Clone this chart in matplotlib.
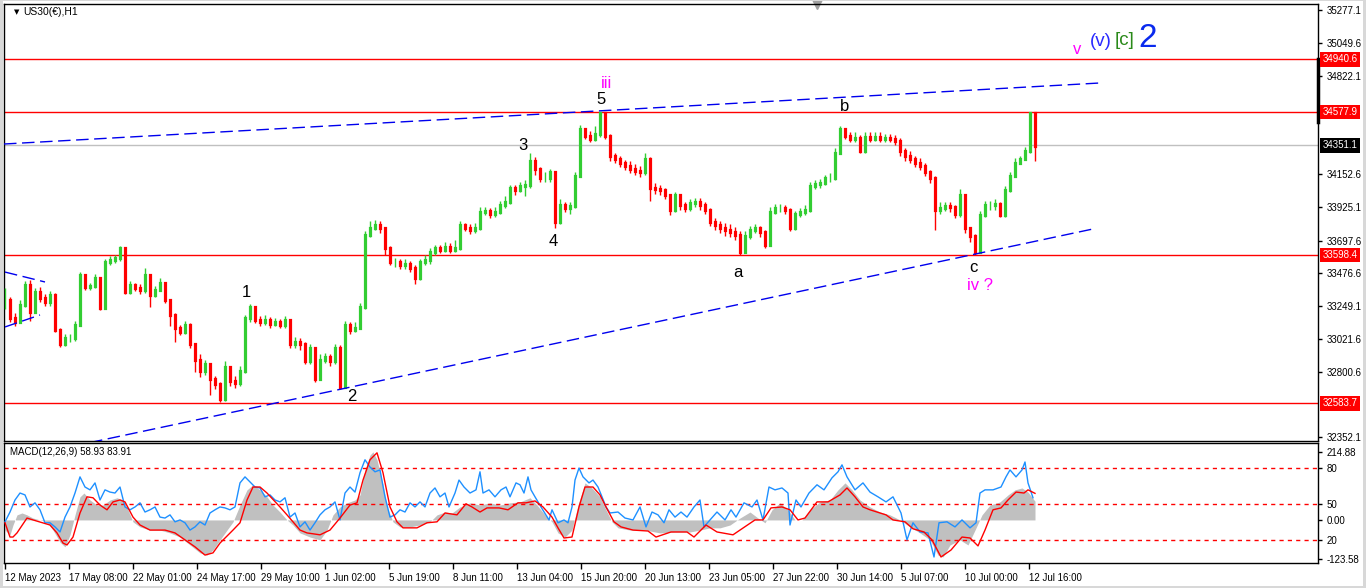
import numpy as np
import matplotlib.pyplot as plt
from matplotlib.patches import Rectangle
from matplotlib.transforms import blended_transform_factory

plt.rcParams['font.family'] = ['Liberation Sans', 'DejaVu Sans']

W, H = 1366, 588

# US30 H1, one candle read every 5 hourly bars (12 May .. 12 Jul 2023)
bar_step = 5
closes = [33292, 33169, 33142, 33258, 33394, 33210, 33346, 33306, 33278, 33326,
          33088, 32986, 33033, 33033, 33122, 33462, 33381, 33387, 33442, 33237,
          33551, 33564, 33578, 33646, 33346, 33394, 33374, 33360, 33462, 33326,
          33360, 33408, 33292, 33190, 33101, 33074, 33122, 32986, 32883, 32802,
          32849, 32747, 32713, 32611, 32829, 32734, 32720, 32802, 33169, 33244,
          33156, 33142, 33156, 33129, 33142, 33122, 33156, 32986, 33006, 32986,
          32870, 32965, 32747, 32883, 32897, 32870, 32965, 32693, 33122, 33088,
          33101, 33244, 33735, 33782, 33803, 33782, 33646, 33551, 33551, 33530,
          33537, 33510, 33442, 33551, 33564, 33619, 33646, 33633, 33653, 33633,
          33646, 33803, 33782, 33769, 33782, 33891, 33898, 33878, 33891, 33939,
          33959, 34055, 34041, 34068, 34075, 34245, 34191, 34123, 34123, 34164,
          33823, 33939, 33919, 33932, 34143, 34463, 34416, 34395, 34429, 34572,
          34416, 34279, 34259, 34232, 34211, 34191, 34177, 34164, 34259, 34055,
          34048, 34041, 34007, 33905, 34007, 33939, 33919, 33953, 33959, 33939,
          33905, 33823, 33803, 33782, 33769, 33755, 33735, 33619, 33728, 33769,
          33782, 33755, 33667, 33891, 33919, 33919, 33905, 33782, 33878, 33891,
          33905, 34068, 34082, 34089, 34123, 34123, 34300, 34463, 34416, 34395,
          34402, 34314, 34409, 34395, 34409, 34395, 34402, 34395, 34382, 34314,
          34279, 34259, 34232, 34211, 34164, 34123, 33905, 33919, 33932, 33925,
          33878, 34007, 33782, 33728, 33619, 33871, 33939, 33939, 33946, 33871,
          34041, 34143, 34232, 34259, 34314, 34572, 34348]
highs = [33370, 33310, 33200, 33290, 33420, 33430, 33370, 33380, 33330, 33350,
         33340, 33100, 33060, 33060, 33150, 33480, 33470, 33410, 33470, 33450,
         33570, 33590, 33600, 33660, 33650, 33420, 33410, 33400, 33510, 33470,
         33385, 33440, 33415, 33300, 33200, 33120, 33150, 33130, 32990, 32920,
         32880, 32860, 32770, 32730, 32870, 32840, 32770, 32840, 33190, 33260,
         33250, 33180, 33185, 33175, 33170, 33160, 33180, 33160, 33040, 33030,
         33000, 32990, 32970, 32920, 32930, 32920, 32990, 32980, 33150, 33140,
         33140, 33270, 33760, 33830, 33840, 33830, 33790, 33660, 33580, 33570,
         33570, 33560, 33530, 33570, 33600, 33650, 33670, 33670, 33690, 33680,
         33700, 33830, 33820, 33810, 33820, 33930, 33930, 33920, 33930, 33970,
         34000, 34080, 34080, 34100, 34110, 34300, 34270, 34200, 34170, 34190,
         34170, 33980, 33960, 33960, 34170, 34490, 34470, 34450, 34480, 34580,
         34575, 34430, 34300, 34280, 34250, 34240, 34220, 34210, 34300, 34270,
         34090, 34080, 34060, 34020, 34030, 34010, 33960, 33980, 33990, 33990,
         33960, 33920, 33850, 33830, 33820, 33810, 33790, 33760, 33760, 33800,
         33810, 33800, 33770, 33930, 33950, 33950, 33940, 33920, 33900, 33920,
         33940, 34100, 34110, 34120, 34150, 34160, 34330, 34480, 34470, 34440,
         34440, 34420, 34440, 34440, 34440, 34440, 34430, 34430, 34420, 34400,
         34330, 34310, 34280, 34260, 34230, 34180, 34140, 33960, 33960, 33960,
         33940, 34050, 34020, 33790, 33740, 33900, 33970, 33970, 33980, 33960,
         34070, 34170, 34260, 34280, 34340, 34580, 34560]
lows = [33230, 33140, 33110, 33130, 33240, 33150, 33200, 33280, 33250, 33250,
        33070, 32970, 32975, 33000, 33010, 33110, 33360, 33360, 33370, 33220,
        33230, 33530, 33545, 33560, 33330, 33330, 33350, 33335, 33340, 33240,
        33310, 33350, 33270, 33110, 33006, 33050, 33060, 32960, 32795, 32760,
        32780, 32640, 32680, 32590, 32600, 32700, 32690, 32700, 32790, 33140,
        33130, 33110, 33120, 33100, 33110, 33100, 33100, 32960, 32960, 32950,
        32850, 32850, 32730, 32740, 32860, 32840, 32850, 32680, 32690, 33060,
        33070, 33090, 33230, 33720, 33770, 33750, 33600, 33530, 33520, 33500,
        33500, 33480, 33400, 33430, 33530, 33540, 33600, 33610, 33620, 33610,
        33620, 33630, 33760, 33740, 33750, 33770, 33870, 33850, 33860, 33880,
        33920, 33950, 34010, 34030, 34000, 34060, 34150, 34100, 34100, 34100,
        33782, 33810, 33890, 33880, 33920, 34130, 34390, 34370, 34380, 34410,
        34390, 34240, 34230, 34200, 34180, 34160, 34150, 34130, 34150, 33970,
        34020, 34010, 33980, 33870, 33890, 33910, 33890, 33900, 33930, 33910,
        33880, 33800, 33770, 33750, 33730, 33720, 33700, 33598, 33610, 33710,
        33750, 33720, 33650, 33660, 33880, 33890, 33880, 33760, 33770, 33860,
        33870, 33890, 34050, 34060, 34080, 34100, 34110, 34290, 34390, 34370,
        34370, 34300, 34300, 34370, 34380, 34370, 34370, 34370, 34350, 34280,
        34240, 34230, 34200, 34180, 34140, 34090, 33769, 33880, 33900, 33890,
        33850, 33860, 33750, 33690, 33598, 33610, 33860, 33910, 33910, 33860,
        33860, 34030, 34130, 34220, 34250, 34300, 34240]

# MACD(12,26,9) pane readings: (bar number, value)
hist_bars = [0, 5, 8, 12, 17, 22, 28, 35, 42, 48, 55, 60, 65, 70, 75, 79, 85, 92, 98, 105,
             112, 118, 123, 128, 135, 145, 155, 165, 175, 185, 195, 202, 208, 215, 222, 228,
             235, 242, 248, 255, 262, 268, 275, 282, 288, 295, 305, 315, 322, 328, 335, 342,
             350, 355, 360, 365, 368, 372, 378, 382, 388, 395, 405, 415, 425, 432, 440, 447,
             455, 465, 475, 485, 495, 505, 515, 525, 532, 540, 547, 553, 560, 567, 573, 580,
             587, 595, 601, 607, 613, 625, 640, 655, 670, 685, 695, 705, 715, 725, 735, 745,
             753, 760, 767, 775, 783, 790, 797, 805, 815, 825, 833, 840, 847, 855, 865, 875,
             885, 895, 905, 915, 925, 933, 938, 945, 955, 963, 970, 977, 985, 995, 1003, 1010,
             1017, 1023, 1030]
hist_vals = [-32, -47, -16, 16, 22, 16, 6, 0, -6, -32, -70, -85, -47, 16, 73, 85, 63, 47, 47, 63,
             70, 63, 32, -6, -22, -32, -32, -41, -54, -79, -104, -111, -95, -63, -32, -6,
             47, 95, 111, 95, 73, 47, 25, 0, -16, -41, -54, -63, -32, 16, 41, 54,
             63, 79, 158, 205, 215, 190, 111, 41, -6, -22, -22, -16, -6, 16, 25, 22,
             41, 54, 47, 54, 47, 54, 57, 70, 47, 16, -6, -41, -54, -32, 47, 117,
             101, 73, 32, -6, -25, -32, -32, -41, -38, -38, -32, -25, -25, -16, 6, 25,
             6, -9, 32, 54, 32, 0, 0, 32, 57, 63, 95, 117, 95, 63, 41, 25,
             16, 0, -22, -41, -63, -111, -117, -79, -63, -79, -32, 16, 47, 57, 79, 95,
             101, 88, 59]

signal_bars = [0, 5, 8, 12, 22, 28, 45, 52, 58, 62, 68, 75, 82, 88, 95, 102, 108, 115, 120, 128,
               135, 145, 160, 170, 180, 190, 200, 208, 215, 228, 235, 242, 248, 255, 262, 275,
               282, 288, 295, 302, 315, 325, 335, 345, 352, 358, 365, 372, 378, 385, 392, 398,
               412, 422, 432, 440, 452, 461, 467, 475, 482, 494, 503, 513, 521, 530, 538, 547,
               553, 559, 567, 574, 580, 588, 595, 601, 609, 616, 628, 643, 651, 666, 682, 689,
               701, 712, 728, 735, 750, 758, 766, 777, 785, 793, 800, 812, 823, 835, 842, 850,
               858, 865, 881, 888, 900, 908, 919, 927, 936, 946, 957, 965, 973, 980, 988, 996,
               1003, 1011, 1019, 1023, 1030]
signal_vals = [-9, -54, -54, -41, 6, 0, -16, -41, -73, -79, -54, 22, 73, 70, 47, 32, 57, 63, 57, 9,
               -16, -32, -32, -41, -63, -85, -111, -104, -73, -32, -9, 63, 104, 104, 85, 41,
               16, -6, -32, -41, -47, -32, 6, 47, 54, 126, 190, 212, 149, 41, -6, -25,
               -25, -9, -6, 22, 16, 51, 41, 25, 38, 38, 32, 54, 54, 60, 41, 9,
               -25, -57, -54, 41, 104, 104, 79, 41, -6, -22, -32, -35, -54, -38, -38, -54,
               -16, -38, -47, -32, 0, 0, 38, 41, 32, 0, 6, 57, 57, 79, 101, 73,
               41, 32, 16, 0, -6, -28, -38, -63, -117, -95, -54, -57, -82, -32, 32, 38,
               63, 88, 85, 95, 84]

blue_bars = [0, 5, 10, 15, 20, 25, 30, 35, 40, 45, 50, 55, 60, 65, 70, 75, 80, 85, 90, 95,
             100, 105, 110, 115, 120, 125, 130, 135, 140, 145, 150, 155, 160, 165, 170, 175, 180, 185, 190, 195,
             200, 205, 210, 215, 220, 225, 230, 235, 240, 245, 250, 255, 260, 265, 270, 275, 280, 285, 290, 295,
             300, 305, 310, 315, 320, 325, 330, 335, 340, 345, 350, 355, 360, 365, 370, 375, 380, 385, 390, 395,
             400, 405, 410, 415, 420, 425, 430, 435, 440, 444, 450, 454, 459, 465, 471, 475, 478, 484, 490, 496,
             501, 505, 511, 515, 519, 523, 526, 530, 536, 544, 547, 553, 559, 563, 567, 570, 574, 578, 584, 588,
             593, 597, 601, 605, 613, 620, 628, 635, 641, 647, 653, 659, 664, 670, 676, 682, 689, 695, 699, 705,
             712, 720, 726, 731, 739, 747, 752, 758, 764, 770, 777, 783, 785, 791, 796, 804, 812, 819, 827, 833,
             837, 842, 850, 858, 865, 873, 881, 888, 896, 902, 908, 915, 923, 929, 934, 942, 950, 957, 965, 971,
             975, 980, 988, 996, 1001, 1005, 1011, 1017, 1020, 1023, 1028]
blue_vals = [-6, 25, 63, 85, 79, 41, 54, 32, -9, -9, -22, -38, 9, 41, 85, 136, 104, 95, 117, 63,
             95, 88, 85, 104, 41, 32, 41, 54, 25, 32, 41, 9, 6, 16, -6, 0, -9, -32, -22, -6,
             -16, 22, 32, 41, 38, 32, 41, 117, 136, 120, 104, 101, 73, 79, 63, 57, 70, 9, 22, -22,
             -6, -32, -9, 16, 32, 41, 57, 0, 85, 104, 88, 149, 190, 167, 152, 158, 73, 9, 16, 32,
             25, 54, 41, 57, 41, 85, 101, 73, 85, 41, 85, 126, 104, 85, 95, 152, 85, 95, 73, 95,
             104, 73, 117, 111, 85, 136, 95, 73, 41, 0, 32, -9, 0, -9, 41, 126, 164, 136, 117, 126,
             104, 73, 41, 22, 25, 6, 0, 41, -22, 25, 16, -9, 32, 9, 25, 9, 41, 63, -22, 0,
             25, 0, 32, 9, 54, 41, 63, 0, 104, 95, 101, 85, -16, 63, 41, 85, 111, 95, 133, 152,
             174, 136, 95, 117, 88, 73, 57, 73, 22, -63, -9, -38, -41, -117, -9, -6, -22, 0, -25, -9,
             85, 95, 95, 104, 136, 158, 136, 158, 183, 117, 70]

macd_levels = [164, 51, -63]
macd_ticks = [214.88, 164, 51, 0, -63, -123.58]
macd_tick_labels = ['214.88', '80', '50', '0.00', '20', '-123.58']

levels = [34940.6, 34577.9, 33598.4, 32583.7]
bid = 34351.1
price_ticks = [35277.1, 35049.6, 34822.1, 34152.6, 33925.1, 33697.6,
               33476.6, 33249.1, 33021.6, 32800.6, 32352.1]

time_labels = ['12 May 2023', '17 May 08:00', '22 May 01:00', '24 May 17:00', '29 May 10:00',
               '1 Jun 02:00', '5 Jun 19:00', '8 Jun 11:00', '13 Jun 04:00', '15 Jun 20:00',
               '20 Jun 13:00', '23 Jun 05:00', '27 Jun 22:00', '30 Jun 14:00', '5 Jul 07:00',
               '10 Jul 00:00', '12 Jul 16:00']
time_ticks = np.arange(len(time_labels)) * 64

# trend lines (bars, prices)
channel_top = ([-1, 1095], [34359, 34777])
channel_bottom = ([85, 1090], [32314, 33780])
wedge_top = ([0, 40], [33482, 33414])
wedge_bottom = ([0, 35], [33106, 33188])

# wave labels: text, bar, price, colour, size
wave_labels = [('1', 241, 33345, 'black', 12), ('2', 347, 32633, 'black', 12),
               ('3', 518, 34352, 'black', 12), ('4', 548, 33688, 'black', 12),
               ('5', 596, 34661, 'black', 12), ('iii', 601, 34775, 'magenta', 12),
               ('a', 733, 33482, 'black', 12), ('b', 840, 34613, 'black', 12),
               ('c', 968, 33510, 'black', 12), ('iv ?', 975, 33393, 'magenta', 12),
               ('v', 1072, 35003, 'magenta', 12), ('(v)', 1096, 35058, '#2a2aff', 13.5),
               ('[c]', 1120, 35070, '#2a8a1a', 13.5), ('2', 1143, 35085, '#0a2aee', 24)]


def px_box(x0, y0, x1, y1):   # pixel box -> figure fraction rect
    return [x0 / W, 1 - y1 / H, (x1 - x0) / W, (y1 - y0) / H]


fig = plt.figure(figsize=(W / 100, H / 100), dpi=100)
fig.patch.set_facecolor('white')
for r in [(0, 0, 3, H), (1363, 0, 3, H), (0, 586, W, 2), (0, 0, W, 1)]:
    fig.add_artist(Rectangle((r[0] / W, 1 - (r[1] + r[3]) / H), r[2] / W, r[3] / H,
                             transform=fig.transFigure, color='#d8d8d8', lw=0))

ax = fig.add_axes(px_box(4, 4, 1318, 441))
ax2 = fig.add_axes(px_box(4, 443, 1318, 563))

for a in (ax, ax2):
    a.set_facecolor('white')
    a.set_xlim(-1, 1313)
    for s in a.spines.values():
        s.set_color('black')
        s.set_linewidth(1)

# ---- price pane
ax.set_ylim(32324.8, 35318)
bars = np.arange(len(closes)) * bar_step
opens = [closes[0]] + closes[:-1]
cols = ['#32cd32' if c >= o else '#ff0000' for o, c in zip(opens, closes)]
ax.vlines(bars, lows, highs, colors=cols, linewidth=1.0, zorder=3)
body = ax.vlines(bars, np.minimum(opens, closes), np.maximum(opens, closes),
                 colors=cols, linewidth=2.3, zorder=3)
body.set_capstyle('projecting')

for l in levels:
    ax.axhline(l, color='red', lw=1, zorder=2)
ax.axhline(bid, color='#c0c0c0', lw=1, zorder=1)

for line in (channel_top, channel_bottom, wedge_top, wedge_bottom):
    ax.plot(line[0], line[1], color='#0000ee', lw=1, ls=(0, (9, 4)), zorder=4)

for txt, b, p, c, fs in wave_labels:
    ax.text(b, p, txt, color=c, fontsize=fs, ha='center', va='center', zorder=5)

ax.set_xticks([])
ax.yaxis.tick_right()
ax.set_yticks(price_ticks)
ax.set_yticklabels([f'{t:.1f}' for t in price_ticks], fontsize=7)
ax.tick_params(axis='y', direction='out', length=3, width=1, pad=3)

trans = blended_transform_factory(ax.transAxes, ax.transData)
for l in levels:
    ax.text(1.0035, l, f'{l:.1f}', transform=trans, ha='left', va='center', color='white',
            fontsize=7, bbox=dict(boxstyle='square,pad=0.25', fc='red', ec='none'), clip_on=False)
ax.text(1.0035, bid, f'{bid:.1f}', transform=trans, ha='left', va='center', color='white',
        fontsize=7, bbox=dict(boxstyle='square,pad=0.25', fc='black', ec='none'), clip_on=False)
ax.plot([1.0, 1.0], [34940.6, 34510], transform=trans, color='black', lw=2.5, clip_on=False)

ax.text(0.0075, 0.982, '\u25bc', transform=ax.transAxes, fontsize=5, va='center', ha='left',
        family=['DejaVu Sans'])
ax.text(0.0145, 0.982, 'US30(\u20ac),H1', transform=ax.transAxes, fontsize=7.5, va='center', ha='left')
ax.plot([812], [1.0], transform=blended_transform_factory(ax.transData, ax.transAxes), marker='v',
        color='#a0a0a0', ms=7, clip_on=False, ls='none')

# ---- MACD pane
ax2.set_ylim(-136, 243)
ax2.fill_between(hist_bars, 0, hist_vals, color='#c0c0c0', lw=0, zorder=1)
for v in macd_levels:
    ax2.axhline(v, color='red', lw=1, ls=(0, (3, 3)), zorder=2)
ax2.plot(blue_bars, blue_vals, color='#1e90ff', lw=1, zorder=3)
ax2.plot(signal_bars, signal_vals, color='red', lw=1, zorder=4)
ax2.text(0.0045, 0.925, 'MACD(12,26,9) 58.93 83.91', transform=ax2.transAxes, fontsize=7,
         va='center', ha='left')

ax2.yaxis.tick_right()
ax2.set_yticks(macd_ticks)
ax2.set_yticklabels(macd_tick_labels, fontsize=7)
ax2.tick_params(axis='y', direction='out', length=3, width=1, pad=3)
ax2.set_xticks(time_ticks)
ax2.set_xticklabels(time_labels, fontsize=7)
for lbl in ax2.get_xticklabels():
    lbl.set_ha('left')
ax2.tick_params(axis='x', direction='out', length=4, width=1, pad=3)

fig.savefig('out.png', dpi=100, facecolor=fig.get_facecolor())
